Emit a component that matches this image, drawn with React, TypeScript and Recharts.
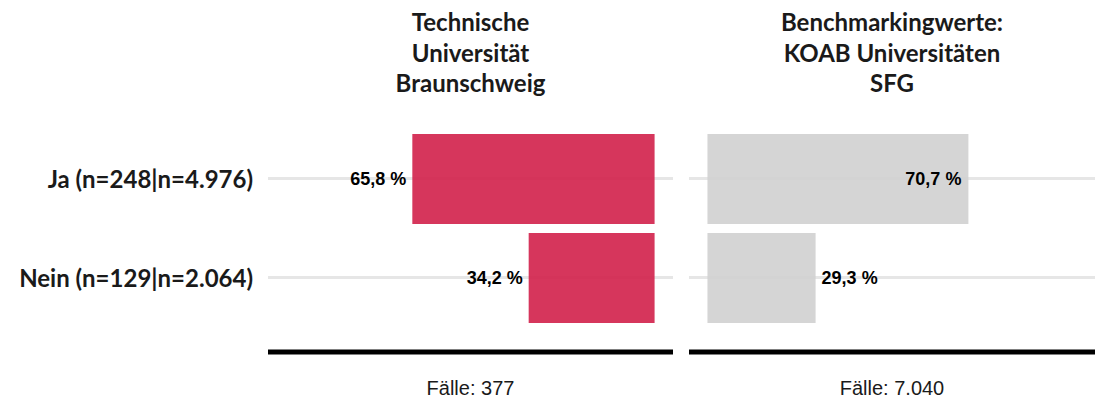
import { BarChart, Bar, XAxis, YAxis, CartesianGrid, LabelList } from "recharts";

// answer categories with case counts (own | benchmark)
const categories = ["Ja (n=248|n=4.976)", "Nein (n=129|n=2.064)"];
const tuValues = [65.8, 34.2];
const benchValues = [70.7, 29.3];
const tuTitle = ["Technische", "Universität", "Braunschweig"];
const benchTitle = ["Benchmarkingwerte:", "KOAB Universitäten", "SFG"];
const caseLabels = ["Fälle: 377", "Fälle: 7.040"];

const tuData = categories.map((name, i) => ({ name, value: tuValues[i] }));
const benchData = categories.map((name, i) => ({ name, value: benchValues[i] }));

const RED = "#d1204a";
const GREY = "#d0d0d0";
const GRID = "#e6e6e6";
const TEXT = "#1a1a1a";
const HEAD_FONT = "Lato, 'Open Sans', sans-serif";
const NUM_FONT = "'Liberation Sans', Arial, sans-serif";

const CHART_H = 401;
const MARGIN_TOP = 129;
const XAXIS_H = 49;

const fmt = (v: number) => v.toFixed(1).replace(".", ",") + " %";

// left panel: label sits outside, left of the bar end
const LeftLabel = (props: any) => {
  const { x, y, width, height, value } = props;
  const left = Math.min(x, x + width);
  return (
    <text
      x={left - 6}
      y={y + height / 2}
      textAnchor="end"
      dominantBaseline="central"
      fontFamily={NUM_FONT}
      fontWeight={700}
      fontSize={18}
      fill="#000"
    >
      {fmt(value)}
    </text>
  );
};

// right panel: inside for big bars, outside for small ones
const RightLabel = (props: any) => {
  const { x, y, width, height, value } = props;
  const right = Math.max(x, x + width);
  const inside = value >= 50;
  return (
    <text
      x={inside ? right - 7 : right + 6}
      y={y + height / 2}
      textAnchor={inside ? "end" : "start"}
      dominantBaseline="central"
      fontFamily={NUM_FONT}
      fontWeight={700}
      fontSize={18}
      fill="#000"
    >
      {fmt(value)}
    </text>
  );
};

const Title = ({ lines, center }: { lines: string[]; center: number }) => (
  <div
    style={{
      position: "absolute",
      left: center - 200,
      top: 7,
      width: 400,
      textAlign: "center",
      fontFamily: HEAD_FONT,
      fontWeight: 700,
      fontSize: 24,
      lineHeight: "30.5px",
      color: TEXT,
    }}
  >
    {lines.map((l) => (
      <div key={l}>{l}</div>
    ))}
  </div>
);

const xLabel = (value: string) => ({
  value,
  position: "insideBottom" as const,
  offset: 6,
  fill: TEXT,
  fontSize: 20,
  fontFamily: NUM_FONT,
});

export default function App() {
  return (
    <div
      style={{
        position: "absolute",
        left: 0,
        top: 0,
        width: 1104,
        height: CHART_H,
        background: "#fff",
        overflow: "hidden",
      }}
    >
      <Title lines={tuTitle} center={470.5} />
      <Title lines={benchTitle} center={892} />

      <div style={{ position: "absolute", left: 0, top: 0 }}>
        <BarChart
          width={680}
          height={CHART_H}
          data={tuData}
          layout="vertical"
          margin={{ top: MARGIN_TOP, right: 7, bottom: 0, left: 0 }}
        >
          <CartesianGrid horizontal vertical={false} syncWithTicks stroke={GRID} strokeWidth={3} />
          <XAxis
            type="number"
            domain={[-5, 105]}
            allowDataOverflow
            reversed
            tick={false}
            tickLine={false}
            axisLine={{ stroke: "#000", strokeWidth: 5 }}
            height={XAXIS_H}
            label={xLabel(caseLabels[0])}
          />
          <YAxis
            type="category"
            dataKey="name"
            width={268}
            padding={{ top: 0, bottom: 25 }}
            axisLine={false}
            tickLine={false}
            tickSize={0}
            tickMargin={15}
            tick={{ fill: TEXT, fontSize: 24, fontWeight: 700, fontFamily: HEAD_FONT, dy: 1 }}
          />
          <Bar dataKey="value" fill={RED} fillOpacity={0.9} barSize={90} isAnimationActive={false}>
            <LabelList dataKey="value" content={LeftLabel} />
          </Bar>
        </BarChart>
      </div>

      <div style={{ position: "absolute", left: 689, top: 0 }}>
        <BarChart
          width={415}
          height={CHART_H}
          data={benchData}
          layout="vertical"
          margin={{ top: MARGIN_TOP, right: 9, bottom: 0, left: 0 }}
        >
          <CartesianGrid horizontal vertical={false} syncWithTicks stroke={GRID} strokeWidth={3} />
          <XAxis
            type="number"
            domain={[-5, 105]}
            allowDataOverflow
            tick={false}
            tickLine={false}
            axisLine={{ stroke: "#000", strokeWidth: 5 }}
            height={XAXIS_H}
            label={xLabel(caseLabels[1])}
          />
          <YAxis type="category" dataKey="name" hide padding={{ top: 0, bottom: 25 }} />
          <Bar dataKey="value" fill={GREY} fillOpacity={0.9} barSize={90} isAnimationActive={false}>
            <LabelList dataKey="value" content={RightLabel} />
          </Bar>
        </BarChart>
      </div>
    </div>
  );
}
